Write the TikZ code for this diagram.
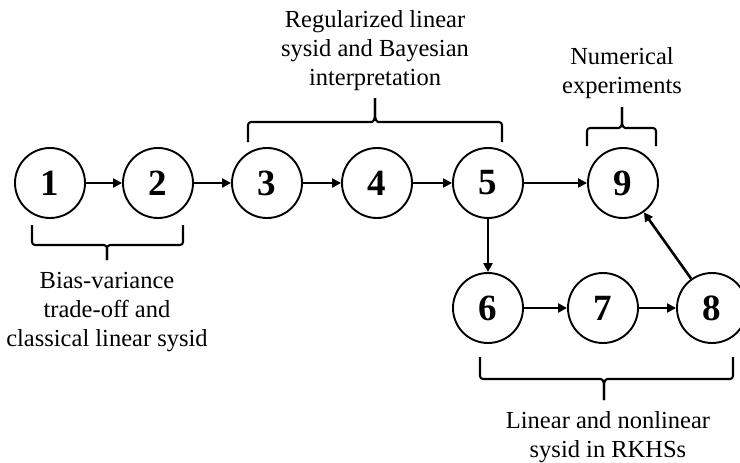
\documentclass[tikz,border=0pt]{standalone}
\usepackage{fontspec}
\setmainfont{Liberation Serif}
\usetikzlibrary{arrows.meta}

% Curly bracket: legs at x1 and x2 from ytop to ymid, tip at xc reaching ytip
% #1 = x1, #2 = x2, #3 = xc, #4 = ytop, #5 = ymid, #6 = ytip
\newcommand{\curlybrace}[6]{%
  \draw[bracket] (#1,#4) -- (#1,#5) -- ({#3-6},#5)
    .. controls ({#3-2},#5) and (#3,{#5+0.12*(#6-#5)}) .. (#3,{#5+0.35*(#6-#5)}) -- (#3,#6);
  \draw[bracket] (#2,#4) -- (#2,#5) -- ({#3+6},#5)
    .. controls ({#3+2},#5) and (#3,{#5+0.12*(#6-#5)}) .. (#3,{#5+0.35*(#6-#5)}) -- (#3,#6);
}

\begin{document}
\begin{tikzpicture}[x=1pt,y=-1pt,
  stage/.style={circle,draw,line width=1.9pt,minimum size=70pt,inner sep=0pt,
    font=\fontsize{37}{40}\selectfont\bfseries},
  flow/.style={line width=2.6pt,-{Triangle[length=9pt,width=9pt]}},
  bracket/.style={line width=2.1pt,rounded corners=3pt,line join=round},
  caption/.style={align=center,inner sep=0pt,anchor=north,
    font=\fontsize{24.5}{29}\selectfont}]
\useasboundingbox (0,0) rectangle (740,463);

% chapters
\node[stage] (n1) at (50,183)  {1};
\node[stage] (n2) at (158,183) {2};
\node[stage] (n3) at (267,183) {3};
\node[stage] (n4) at (377,183) {4};
\node[stage] (n5) at (488,183) {5};
\node[stage] (n9) at (623,183) {9};
\node[stage] (n6) at (488,308) {6};
\node[stage] (n7) at (603,308) {7};
\node[stage] (n8) at (712,308) {8};

% reading order
\draw[flow] (n1) -- (n2);
\draw[flow] (n2) -- (n3);
\draw[flow] (n3) -- (n4);
\draw[flow] (n4) -- (n5);
\draw[flow] (n5) -- (n9);
\draw[flow] (n5) -- (n6);
\draw[flow] (n6) -- (n7);
\draw[flow] (n7) -- (n8);
\draw[flow] (n8) -- (n9);

% groups of chapters
\curlybrace{32}{183}{107}{225}{245}{260}
\curlybrace{248}{502}{375}{142}{122}{98}
\curlybrace{587}{656}{622}{146}{128}{107}
\curlybrace{480}{733}{604}{357}{379}{400}

\node[caption] (t1) at (107,272) {Bias-variance\\trade-off and\\classical linear sysid};
\node[caption] (t2) at (375,10) {Regularized linear\\sysid and Bayesian\\interpretation};
\node[caption] (t3) at (622,47) {Numerical\\experiments};
\node[caption] (t4) at (608,411) {Linear and nonlinear\\sysid in RKHSs};
\end{tikzpicture}
\end{document}
